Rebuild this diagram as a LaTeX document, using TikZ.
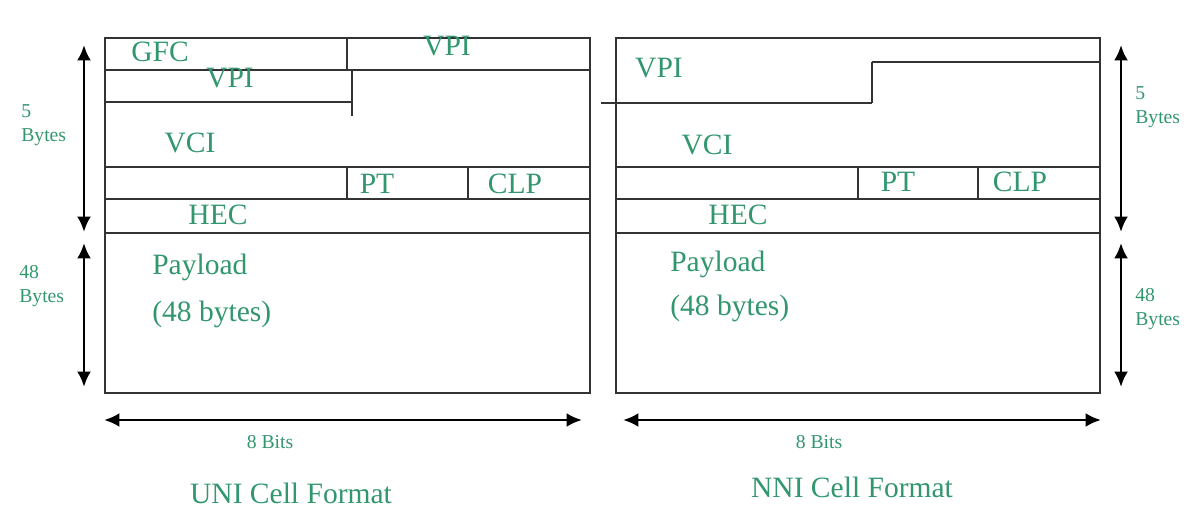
\documentclass[tikz,border=0pt]{standalone}
\usepackage{fontspec}
\setmainfont{Liberation Serif}
\usepackage{xcolor}
\usetikzlibrary{arrows.meta}
\definecolor{fieldgreen}{RGB}{50,150,110}

\tikzset{
  lbl/.style={text=fieldgreen, font=\fontsize{21}{25}\selectfont, inner sep=0pt, anchor=base},
  note/.style={text=fieldgreen, font=\fontsize{14}{17.5}\selectfont, inner sep=0pt, align=left},
  cellline/.style={draw=black!80, line width=1.3pt},
  dimarrow/.style={{Latex[length=11pt,width=10pt]}-{Latex[length=11pt,width=10pt]}, line width=2pt}
}

\begin{document}
\begin{tikzpicture}[x=0.025cm, y=-0.025cm]
\useasboundingbox (0,0) rectangle (1194,517);

% UNI cell
\draw[cellline] (105,38) rectangle (590,393);
\draw[cellline] (105,70) -- (590,70);
\draw[cellline] (347,38) -- (347,70);
\draw[cellline] (105,102) -- (352,102);
\draw[cellline] (352,70) -- (352,116);
\draw[cellline] (105,167) -- (590,167);
\draw[cellline] (347,167) -- (347,199);
\draw[cellline] (468,167) -- (468,199);
\draw[cellline] (105,199) -- (590,199);
\draw[cellline] (105,233) -- (590,233);

\node[lbl] (gfc) at (160,62) {GFC};
\node[lbl] (1) at (447,56) {VPI};
\node[lbl] (2) at (230,88) {VPI};
\node[lbl] (3) at (190,153) {VCI};
\node[lbl] (4) at (377,194) {PT};
\node[lbl] (5) at (515,194) {CLP};
\node[lbl] (6) at (218,225) {HEC};
\node[lbl, anchor=base west] (7) at (152,275) {Payload};
\node[lbl, anchor=base west] (8) at (152,321) {(48 bytes)};

% NNI cell
\draw[cellline] (616,38) rectangle (1100,393);
\draw[cellline] (872,62) -- (1100,62);
\draw[cellline] (872,62) -- (872,103);
\draw[cellline] (601,103) -- (872,103);
\draw[cellline] (616,167) -- (1100,167);
\draw[cellline] (858,167) -- (858,199);
\draw[cellline] (978,167) -- (978,199);
\draw[cellline] (616,199) -- (1100,199);
\draw[cellline] (616,233) -- (1100,233);

\node[lbl] (9) at (659,78) {VPI};
\node[lbl] (10) at (707,155) {VCI};
\node[lbl] (11) at (898,192) {PT};
\node[lbl] (12) at (1020,192) {CLP};
\node[lbl] (13) at (738,225) {HEC};
\node[lbl, anchor=base west] (14) at (670,272) {Payload};
\node[lbl, anchor=base west] (15) at (670,315) {(48 bytes)};

% sizes
\coordinate (a1) at (84,45);
\coordinate (a2) at (84,232);
\coordinate (a3) at (84,243);
\coordinate (a4) at (84,387);
\coordinate (b1) at (1121,45);
\coordinate (b2) at (1121,232);
\coordinate (b3) at (1121,243);
\coordinate (b4) at (1121,387);
\coordinate (c1) at (104,420);
\coordinate (c2) at (582,420);
\coordinate (d1) at (623,420);
\coordinate (d2) at (1101,420);
\draw[dimarrow] (a1) -- (a2);
\draw[dimarrow] (a3) -- (a4);
\draw[dimarrow] (b1) -- (b2);
\draw[dimarrow] (b3) -- (b4);
\draw[dimarrow] (c1) -- (c2);
\draw[dimarrow] (d1) -- (d2);

\node[note, anchor=base west] (16) at (21,142) {5\\Bytes};
\node[note, anchor=base west] (17) at (19,303) {48\\Bytes};
\node[note, anchor=base west] (18) at (1135,124) {5\\Bytes};
\node[note, anchor=base west] (19) at (1135,326) {48\\Bytes};
\node[note, anchor=base] (20) at (270,448) {8 Bits};
\node[note, anchor=base] (21) at (819,448) {8 Bits};
\node[lbl] (uni) at (291,503) {UNI Cell Format};
\node[lbl] (nni) at (852,497) {NNI Cell Format};
\end{tikzpicture}
\end{document}
